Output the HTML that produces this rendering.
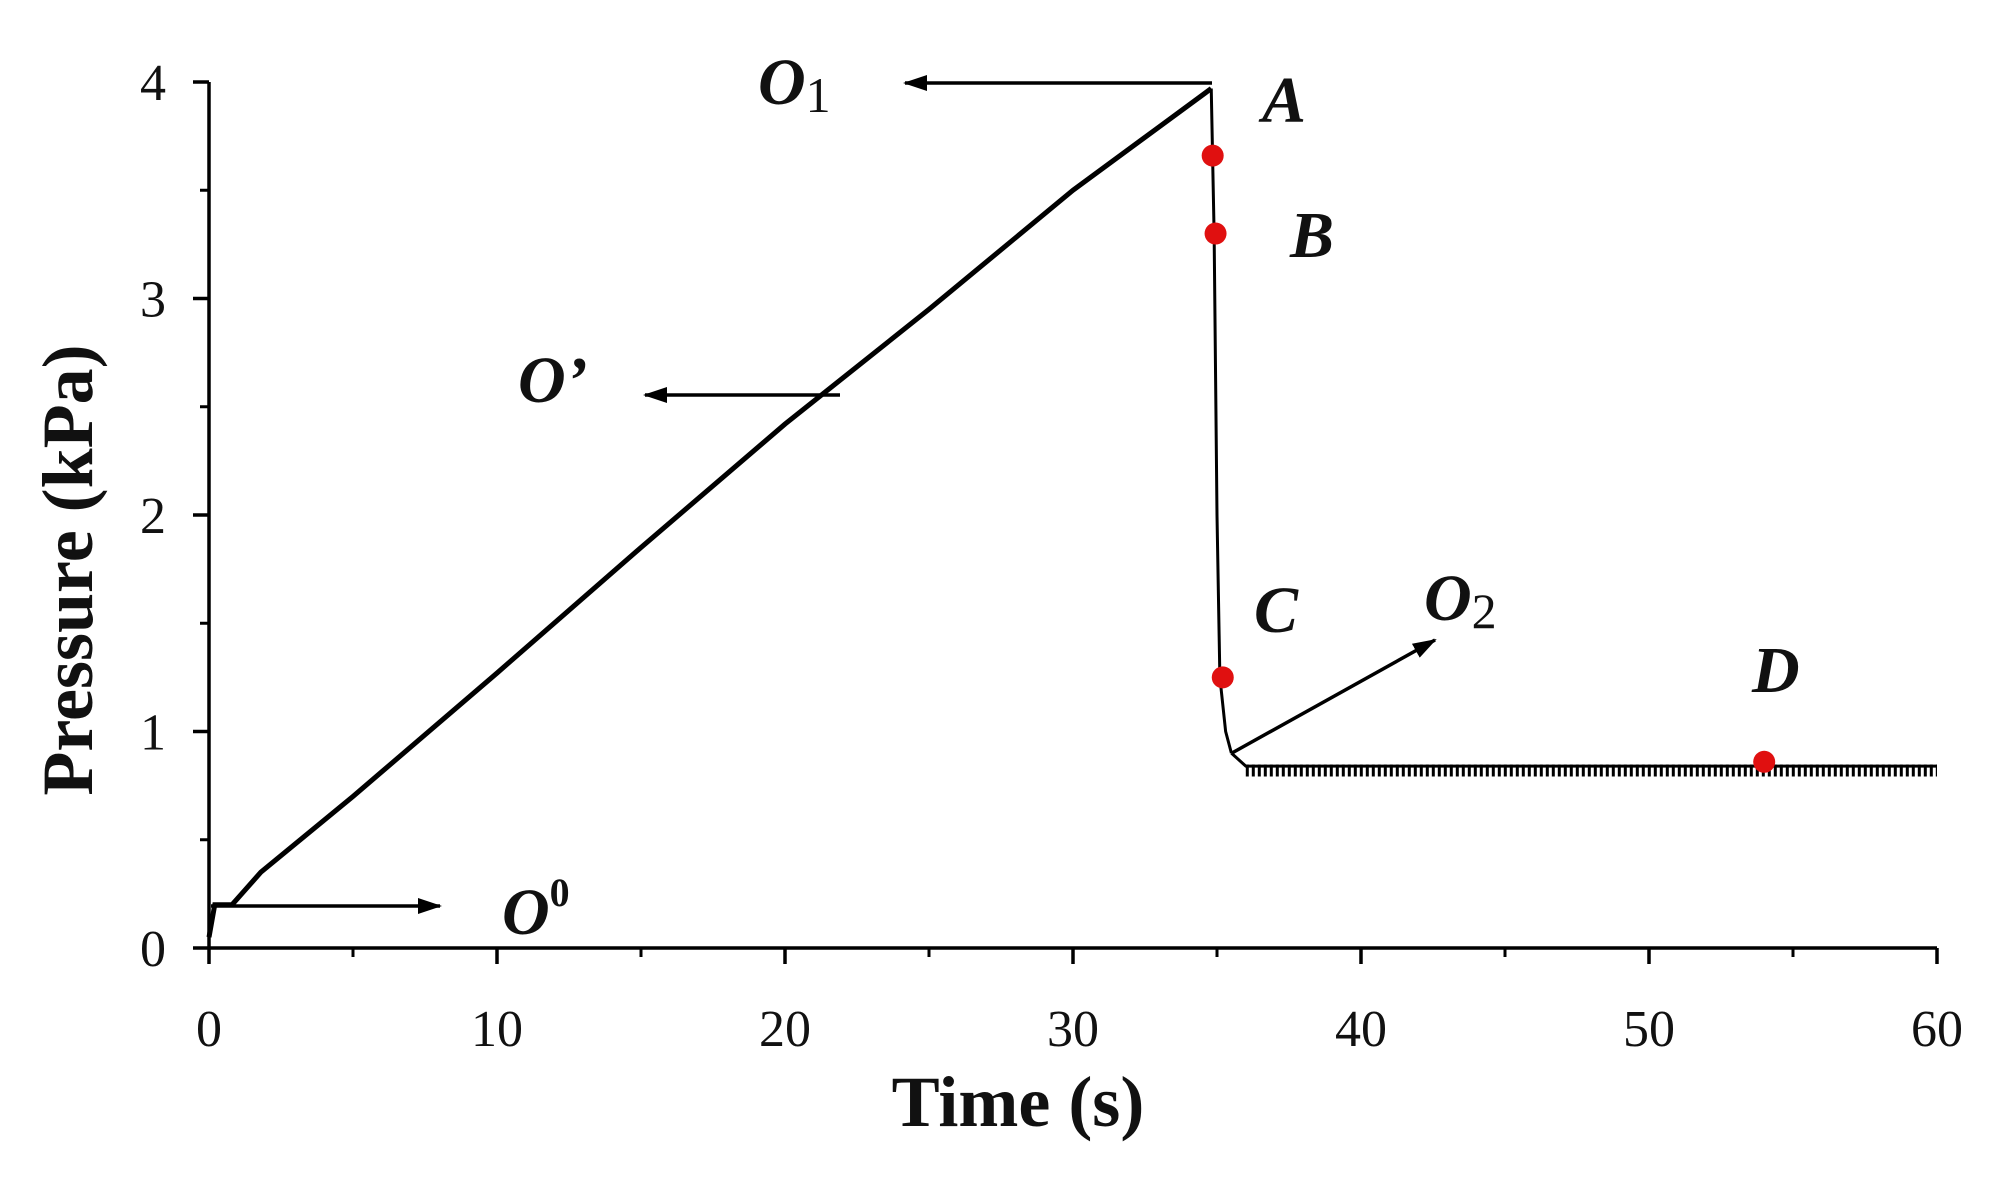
<!DOCTYPE html>
<html><head><meta charset="utf-8"><style>
html,body{margin:0;padding:0;background:#fff;}
svg{display:block;}
text{font-family:"Liberation Serif",serif;fill:#111;}
.tick{font-size:52px;}
.ann{font-size:66px;font-weight:bold;font-style:italic;}
</style></head><body>
<svg id="chart" width="1993" height="1179" viewBox="0 0 1993 1179" xmlns="http://www.w3.org/2000/svg">
<g id="axes"></g>
<g id="series"></g>
<g id="annotations">
 <defs><marker id="ah" markerWidth="24" markerHeight="16" refX="22" refY="8" orient="auto" markerUnits="userSpaceOnUse" viewBox="0 0 24 16"><path d="M0,0 L24,8 L0,16 z" fill="#000"/></marker></defs>
 <line x1="1212" y1="83" x2="905" y2="83" stroke="#000" stroke-width="3.5" marker-end="url(#ah)"/>
 <text class="ann" x="758" y="104">O<tspan font-style="normal" font-weight="normal" font-size="50" dy="8">1</tspan></text>
 <line x1="840" y1="395" x2="645" y2="395" stroke="#000" stroke-width="3.5" marker-end="url(#ah)"/>
 <text class="ann" x="518" y="402">O’</text>
 <line x1="211" y1="906" x2="440" y2="906" stroke="#000" stroke-width="3.5" marker-end="url(#ah)"/>
 <text class="ann" x="502" y="934">O<tspan font-style="normal" font-size="40" dy="-28">0</tspan></text>
 <line x1="1232" y1="753" x2="1435" y2="640" stroke="#000" stroke-width="3.5" marker-end="url(#ah)"/>
 <text class="ann" x="1424" y="620">O<tspan font-style="normal" font-weight="normal" font-size="50" dy="8">2</tspan></text>
 <text class="ann" x="1262" y="122">A</text>
 <text class="ann" x="1290" y="257">B</text>
 <text class="ann" x="1254" y="632">C</text>
 <text class="ann" x="1752" y="692">D</text>
</g>
<text transform="translate(92,570) rotate(-90)" text-anchor="middle" font-size="72" font-weight="bold">Pressure (kPa)</text>
<text x="1018" y="1126" text-anchor="middle" font-size="72" font-weight="bold">Time (s)</text>
</svg>
<script>
const xTicks=[0,10,20,30,40,50,60];
const yTicks=[0,1,2,3,4];
const rampT=[0,0.2,0.8,1.8,5,10,15,20,25,30,34.6,34.8];
const rampP=[0.05,0.2,0.2,0.35,0.7,1.27,1.85,2.42,2.95,3.5,3.95,3.97];
const dropT=[34.8,34.9,35.0,35.1,35.3,35.5];
const dropP=[3.97,3.3,2.0,1.25,1.0,0.9];
const flatT=[35.5,36,60];
const flatP=[0.9,0.84,0.84];
const pointLabels=["A","B","C","D"];
const pointT=[34.85,34.95,35.2,54];
const pointP=[3.66,3.3,1.25,0.86];
const X0=209,X1=1937,Y0=948,Y1=82;
const sx=t=>X0+(t-0)/60*(X1-X0);
const sy=p=>Y0-(p/4)*(Y0-Y1);
const NS="http://www.w3.org/2000/svg";
function mk(tag,attrs,parent){const e=document.createElementNS(NS,tag);for(const k in attrs)e.setAttribute(k,attrs[k]);parent.appendChild(e);return e;}
const ax=document.getElementById('axes'),se=document.getElementById('series');
let e=mk('line',{x1:X0,y1:Y0,x2:X1,y2:Y0,stroke:'#000','stroke-width':3.5},ax);


e=mk('line',{x1:X0,y1:Y0,x2:X0,y2:Y1,stroke:'#000','stroke-width':3.5},ax);


xTicks.forEach((t,i)=>{
 const l=mk('line',{x1:sx(t),y1:Y0,x2:sx(t),y2:Y0+16,stroke:'#000','stroke-width':3.5},ax);
 
 
 if(i<xTicks.length-1){const m=mk('line',{x1:sx(t+5),y1:Y0,x2:sx(t+5),y2:Y0+9,stroke:'#000','stroke-width':3},ax);
 
 }
 const tx=mk('text',{x:sx(t),y:1046,'text-anchor':'middle',class:'tick'},ax);tx.textContent=t;
 
 
});
yTicks.forEach((p,i)=>{
 const l=mk('line',{x1:X0-16,y1:sy(p),x2:X0,y2:sy(p),stroke:'#000','stroke-width':3.5},ax);
 
 
 if(i<yTicks.length-1){const m=mk('line',{x1:X0-9,y1:sy(p+0.5),x2:X0,y2:sy(p+0.5),stroke:'#000','stroke-width':3},ax);
 
 }
 const tx=mk('text',{x:166,y:sy(p)+18,'text-anchor':'end',class:'tick'},ax);tx.textContent=p;
 
 
});
function poly(T,P,name,w){
 const pl=mk('polyline',{points:T.map((t,i)=>sx(t)+','+sy(P[i])).join(' '),fill:'none',stroke:'#000','stroke-width':w},se);
 
 
}
poly(rampT,rampP,'ramp-line',5);
poly(dropT,dropP,'drop-line',3);
poly(flatT,flatP,'flat-line',3);
const band=mk('line',{x1:sx(36),y1:sy(0.82),x2:sx(60),y2:sy(0.82),stroke:'#000','stroke-width':12,'stroke-dasharray':'3 3'},se);


pointT.forEach((t,i)=>{
 const c=mk('circle',{cx:sx(t),cy:sy(pointP[i]),r:11,fill:'#e01010'},se);
 
 
});
</script>
</body></html>
